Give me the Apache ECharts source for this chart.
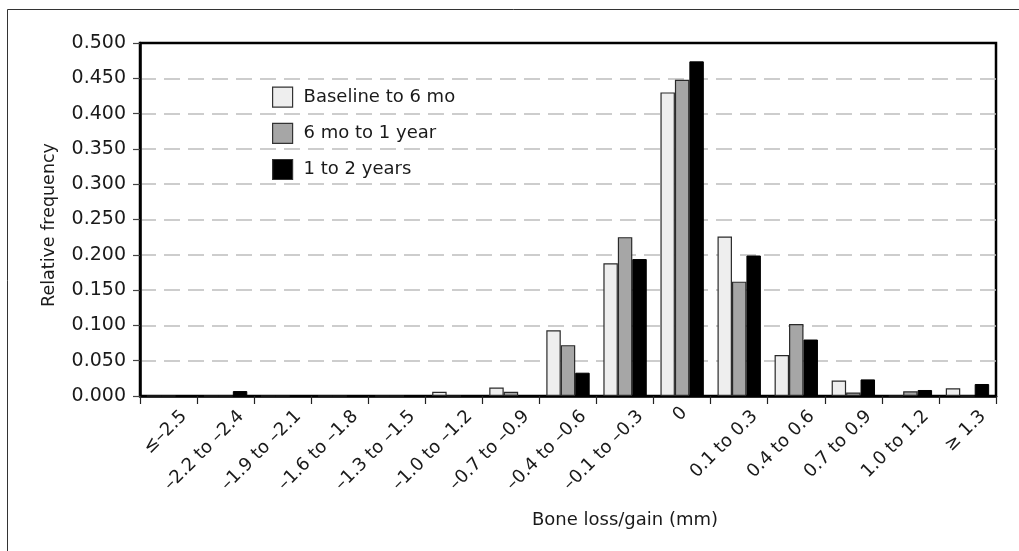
<!DOCTYPE html>
<html>
<head>
<meta charset="utf-8">
<script src="https://cdn.jsdelivr.net/npm/echarts@6/dist/echarts.min.js"></script>
<style>
html,body{margin:0;padding:0;background:#fff;}
#chart{width:1019px;height:551px;}
</style>
</head>
<body>
<div id="chart"></div>
<script>
const categories = ["≤–2.5","–2.2 to –2.4","–1.9 to –2.1","–1.6 to –1.8","–1.3 to –1.5","–1.0 to –1.2","–0.7 to –0.9","–0.4 to –0.6","–0.1 to –0.3","0","0.1 to 0.3","0.4 to 0.6","0.7 to 0.9","1.0 to 1.2","≥ 1.3"];
const seriesNames = ["Baseline to 6 mo","6 mo to 1 year","1 to 2 years"];
const baselineTo6mo = [0,0,0,0,0,0.006,0.012,0.093,0.188,0.430,0.226,0.058,0.022,0,0.011];
const sixMoTo1Year  = [0,0,0,0,0,0,0.006,0.072,0.225,0.448,0.162,0.102,0.005,0.0066,0];
const oneTo2Years   = [0,0.007,0,0,0,0,0,0.033,0.194,0.474,0.199,0.080,0.0235,0.0085,0.017];
const yTicks = [0,0.05,0.1,0.15,0.2,0.25,0.3,0.35,0.4,0.45,0.5];

const FONT = 'DejaVu Sans';
const chart = echarts.init(document.getElementById('chart'), null, {renderer:'canvas'});
const lblStyle = {fontFamily: FONT, fontSize: 18, color: '#1a1a1a'};
chart.setOption({
  animation: false,
  backgroundColor: '#fff',
  graphic: [{
    type: 'rect', silent: true, z: -10,
    shape: {x: 7.5, y: 9.5, width: 1200, height: 700},
    style: {fill: 'none', stroke: '#333', lineWidth: 1}
  }],
  grid: {left: 140, right: 23, top: 43, bottom: 155, show: true, borderColor: '#000', borderWidth: 2.5, backgroundColor: 'transparent'},
  legend: {
    orient: 'vertical', left: 267, top: 81.5,
    itemWidth: 20, itemHeight: 20, itemGap: 15,
    icon: 'rect',
    data: seriesNames,
    itemStyle: {borderWidth: 1.2, borderColor: '#333'},
    textStyle: {fontFamily: FONT, fontSize: 18, color: '#1a1a1a', padding: [0,0,0,6], lineHeight: 20}
  },
  xAxis: {
    type: 'category',
    data: categories,
    axisLine: {lineStyle: {color: '#000', width: 2.5}},
    axisTick: {show: true, length: 8, lineStyle: {color: '#222', width: 1.2}},
    axisLabel: {
      interval: 0, rotate: 45, margin: 2,
      align: 'right', verticalAlign: 'top',
      formatter: v => v === '0' ? '{z|0}' : '{n|' + v + '}',
      rich: {
        n: Object.assign({padding: [13,0,0,0]}, lblStyle),
        z: Object.assign({padding: [1,7,0,0]}, lblStyle)
      }
    },
    name: 'Bone loss/gain (mm)',
    nameLocation: 'middle',
    nameGap: 115,
    nameTextStyle: {fontFamily: FONT, fontSize: 18, color: '#1a1a1a', padding: [0,0,0,114]}
  },
  yAxis: {
    type: 'value',
    min: 0, max: 0.5, interval: 0.05,
    axisLine: {show: true, lineStyle: {color: '#000', width: 2.5}},
    axisTick: {show: true, length: 7, lineStyle: {color: '#444', width: 1.2}},
    axisLabel: {margin: 14, fontFamily: FONT, fontSize: 19, color: '#1a1a1a',
      formatter: v => {
        const t = yTicks.find(x => Math.abs(x - v) < 1e-9);
        return (t !== undefined ? t : v).toFixed(3);
      }},
    splitLine: {show: true, showMinLine: false, showMaxLine: false, lineStyle: {color: '#bdbdbd', width: 1.5, type: [16, 8]}},
    name: 'Relative frequency',
    nameLocation: 'middle',
    nameGap: 82,
    nameTextStyle: {fontFamily: FONT, fontSize: 17.5, color: '#1a1a1a', padding: [0,11,0,0]}
  },
  series: [
    {name: seriesNames[0], type: 'bar', data: baselineTo6mo, barGap: '0%', barCategoryGap: '24%',
      itemStyle: {color: '#eeeeee', borderColor: '#2a2a2a', borderWidth: 1.2}},
    {name: seriesNames[1], type: 'bar', data: sixMoTo1Year, barGap: '0%', barCategoryGap: '24%',
      itemStyle: {color: '#a6a6a6', borderColor: '#2a2a2a', borderWidth: 1.2}},
    {name: seriesNames[2], type: 'bar', data: oneTo2Years, barGap: '0%', barCategoryGap: '24%',
      itemStyle: {color: '#000000', borderColor: '#000', borderWidth: 1}}
  ]
});
</script>
</body>
</html>
